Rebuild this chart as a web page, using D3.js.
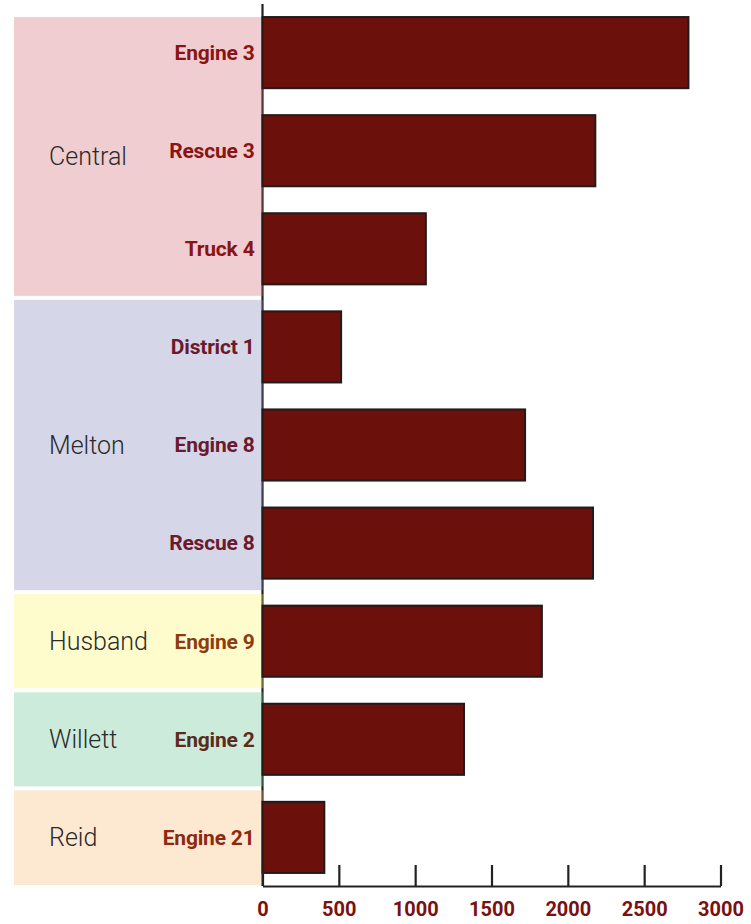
<!DOCTYPE html>
<html>
<head>
<meta charset="utf-8">
<script src="https://cdn.jsdelivr.net/npm/d3@7"></script>
<style>
  html, body { margin: 0; padding: 0; background: #fff; }
  svg { display: block; }
</style>
</head>
<body>
<svg id="chart" width="751" height="924"></svg>
<script>
// ---- data ----
const categories = ["Engine 3", "Rescue 3", "Truck 4", "District 1", "Engine 8", "Rescue 8", "Engine 9", "Engine 2", "Engine 21"];
const categoryGroup = ["Central", "Central", "Central", "Melton", "Melton", "Melton", "Husband", "Willett", "Reid"];
const values = [2790, 2180, 1070, 515, 1720, 2165, 1830, 1320, 405];
const groups = ["Central", "Melton", "Husband", "Willett", "Reid"];
const xTicks = [0, 500, 1000, 1500, 2000, 2500, 3000];

// ---- styles ----
const groupBase = {
  Central: "rgb(209,103,115)",
  Melton:  "rgb(128,131,185)",
  Husband: "rgb(252,243,104)",
  Willett: "rgb(103,194,146)",
  Reid:    "rgb(249,185,119)"
};
const groupLabelColor = {
  Central: "#8a1414",
  Melton:  "#6a1a2c",
  Husband: "#8c3c0e",
  Willett: "#5a2c1c",
  Reid:    "#8c2a10"
};

const svg = d3.select("#chart");
const x0 = 262.5, x1 = 720.5, yTop = 4, yBot = 886;

const x = d3.scaleLinear().domain([0, 3000]).range([x0, x1]);
const y = d3.scaleBand().domain(categories).range([yTop, yBot]).paddingInner(0.275).paddingOuter(0.133);
const bw = y.bandwidth();

// y axis line
svg.append("line")
  .attr("x1", x0).attr("x2", x0).attr("y1", yTop).attr("y2", yBot)
  .attr("stroke", "#222").attr("stroke-width", 2.2);

// group background rects (semi-transparent, tint the axis line)
const groupInfo = groups.map(g => {
  const idx = categories.map((c, i) => i).filter(i => categoryGroup[i] === g);
  return { g, i0: idx[0], i1: idx[idx.length - 1] };
});
groupInfo.forEach(d => {
  const c0 = categories[d.i0], c1 = categories[d.i1];
  let top, bottom;
  if (d.i0 === 0) top = y(c0);
  else top = (y(categories[d.i0 - 1]) + bw + y(c0)) / 2 + 2;
  if (d.i1 === categories.length - 1) bottom = yBot - 1;
  else bottom = (y(c1) + bw + y(categories[d.i1 + 1])) / 2 - 2;
  d.top = top; d.bottom = bottom;
});

svg.append("g").selectAll("rect").data(groupInfo).join("rect")
  .attr("x", 14).attr("y", d => d.top)
  .attr("width", x0 + 1.2 - 14).attr("height", d => d.bottom - d.top)
  .attr("fill", d => groupBase[d.g]).attr("fill-opacity", 0.33);

// group labels
svg.append("g").selectAll("text").data(groupInfo).join("text")
  .attr("x", 49).attr("y", d => (d.top + d.bottom) / 2)
  .attr("dy", "0.35em")
  .attr("font-family", "Roboto, sans-serif").attr("font-weight", 300)
  .attr("font-size", 25).attr("fill", "#2a2a2a")
  .text(d => d.g);

// bars
svg.append("g").selectAll("rect").data(categories).join("rect")
  .attr("x", x(0)).attr("y", d => y(d))
  .attr("width", (d, i) => x(values[i]) - x(0)).attr("height", bw)
  .attr("fill", "#6c100c").attr("stroke", "#231a1a").attr("stroke-width", 2);

// category labels
svg.append("g").selectAll("text").data(categories).join("text")
  .attr("x", x0 - 8).attr("y", d => y(d) + bw / 2)
  .attr("dy", "0.35em").attr("text-anchor", "end")
  .attr("font-family", "Roboto, sans-serif").attr("font-weight", 700)
  .attr("font-size", 21).attr("letter-spacing", -0.2)
  .attr("fill", (d, i) => groupLabelColor[categoryGroup[i]])
  .text(d => d);

// x axis
const xAxis = d3.axisBottom(x).tickValues(xTicks).tickSizeInner(-21).tickSizeOuter(0).tickPadding(16).tickFormat(d3.format("d"));
const gx = svg.append("g").attr("transform", `translate(0,${yBot})`).call(xAxis);
gx.select(".domain").attr("stroke", "#222").attr("stroke-width", 2.2);
gx.selectAll(".tick line").attr("stroke", "#222").attr("stroke-width", 2.2);
gx.selectAll(".tick text")
  .attr("font-family", "Roboto, sans-serif").attr("font-weight", 700)
  .attr("font-size", 20).attr("fill", "#7a1010");
</script>
</body>
</html>
